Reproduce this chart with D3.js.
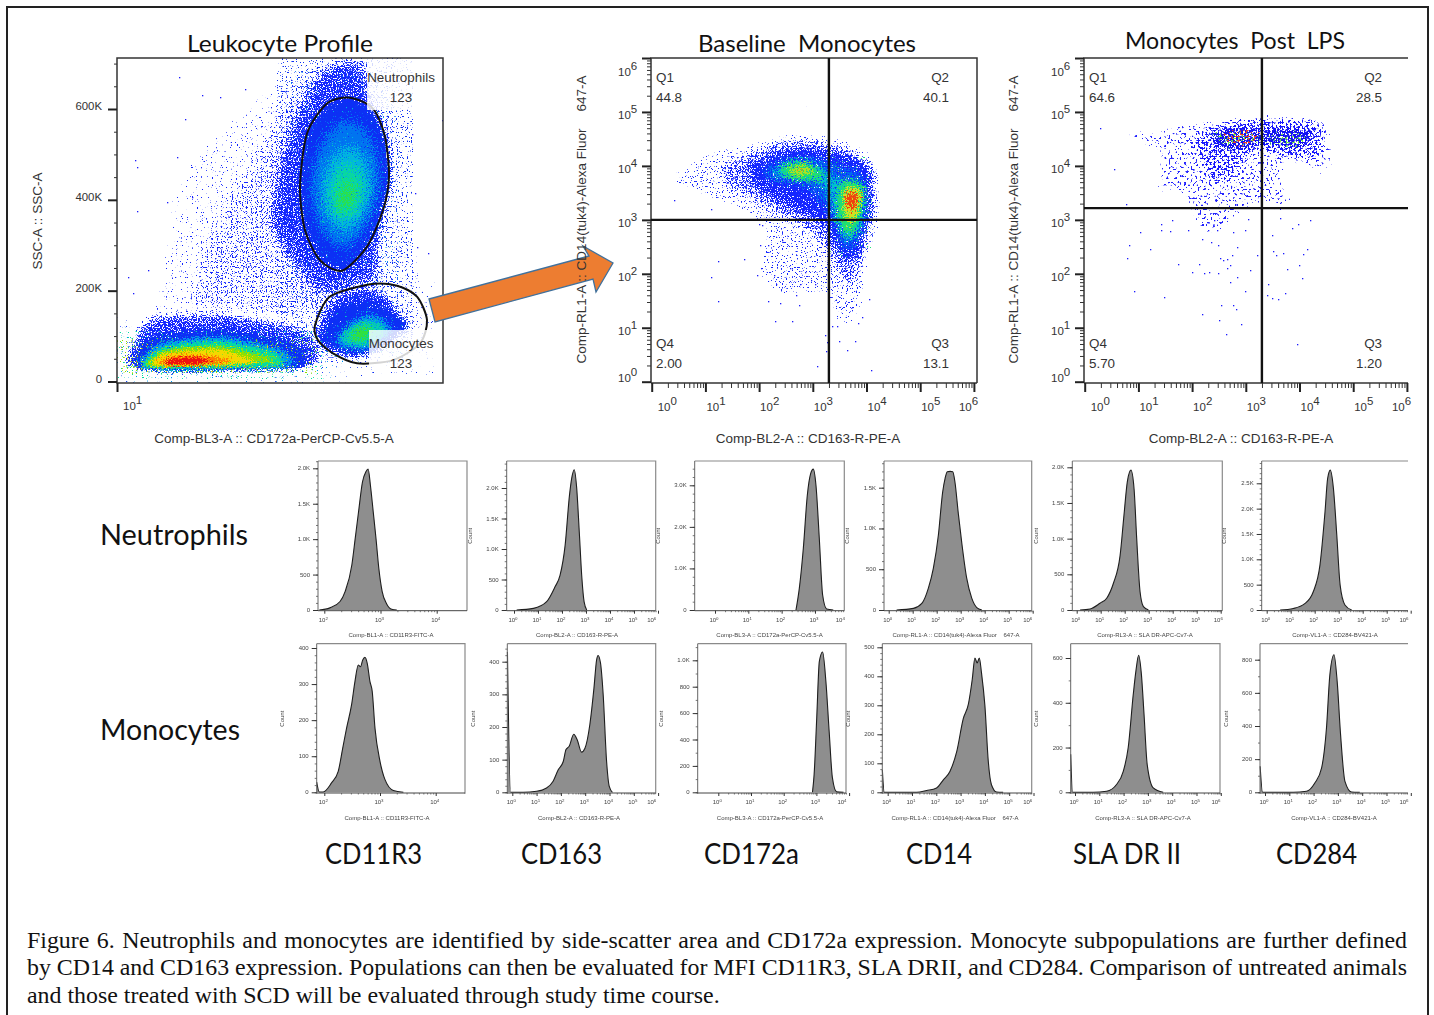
<!DOCTYPE html>
<html>
<head>
<meta charset="utf-8">
<title>Figure 6</title>
<script src="https://cdnjs.cloudflare.com/ajax/libs/d3/7.8.5/d3.min.js"></script>
<style>
  html, body { margin: 0; padding: 0; background: #fff; overflow: hidden; }
  svg { display: block; }
  .soft { filter: blur(0.35px); }
  .softer { filter: blur(0.45px); }
</style>
</head>
<body>
<svg id="fig" width="1434" height="1015"></svg>
<script>
// ---- values ----
// leukocyte plot: x is log10 of CD172a, y is SSC in thousands
const leukoSparse = [[1.13,62],[1.26,172],[1.36,282],[1.60,487],[2.03,575],[2.36,649],[2.76,707],[3.46,711],[3.80,685],[3.96,553],[4.0,414],[4.10,282],[4.23,209],[4.23,62],[3.93,18],[2.03,7],[1.20,18]];
const leukoMid = [[1.63,172],[1.90,355],[2.30,502],[2.56,627],[2.90,704],[3.50,707],[3.80,590],[3.80,443],[3.76,341],[3.70,231],[3.96,165],[3.36,135],[2.03,135]];
const neutHalo = [[2.50,385],[2.66,539],[2.96,671],[3.16,707],[3.50,707],[3.56,627],[3.73,546],[3.76,458],[3.66,319],[3.63,223],[3.46,209],[3.03,187],[2.70,267],[2.50,341]];
const lowHalo = [[1.10,69],[1.33,143],[2.10,150],[2.93,113],[3.0,33],[2.03,22],[1.16,25],[1.06,47]];
const monoHalo = [[2.98,121],[3.13,179],[3.40,209],[3.66,201],[3.83,150],[3.93,121],[3.56,62],[3.36,47],[3.03,69]];
const neutBlue = [[3.31,619],[3.55,590],[3.68,517],[3.70,436],[3.60,355],[3.43,282],[3.25,249],[3.03,282],[2.88,355],[2.86,451],[2.93,546],[3.10,601]];
const neutSky = [[3.31,575],[3.51,546],[3.61,487],[3.61,414],[3.50,348],[3.36,304],[3.20,297],[3.03,341],[2.95,421],[3.0,502],[3.13,553]];
const neutCyan = [[3.31,524],[3.48,495],[3.55,436],[3.50,377],[3.36,333],[3.20,330],[3.08,377],[3.05,443],[3.15,495]];
const neutGreen = [[3.31,487],[3.45,465],[3.48,421],[3.40,370],[3.25,348],[3.13,381],[3.13,436],[3.21,473]];
const neutLime = [[3.31,451],[3.40,436],[3.40,399],[3.28,363],[3.18,385],[3.21,429]];
const lowBlue = [[1.16,47],[1.33,99],[2.03,117],[2.70,91],[2.90,62],[2.83,29],[2.03,24],[1.30,24]];
const lowSky = [[1.23,44],[1.43,84],[2.03,99],[2.63,73],[2.76,47],[2.63,29],[1.36,27]];
const lowTeal = [[1.28,44],[1.50,77],[2.03,88],[2.53,66],[2.66,44],[2.53,33],[1.36,31]];
const lowLime = [[1.31,44],[1.50,69],[2.03,77],[2.43,58],[2.56,44],[1.36,34]];
const lowYellow = [[1.35,44],[1.53,62],[2.03,69],[2.30,51],[2.36,40],[1.43,36]];
const lowOrange = [[1.41,46],[1.63,58],[1.90,58],[2.16,47],[2.03,38],[1.46,36]];
const lowRed = [[1.46,46],[1.66,55],[1.83,53],[1.96,46],[1.83,37],[1.50,37]];
const monoBlue = [[3.03,91],[3.23,165],[3.53,179],[3.73,157],[3.91,121],[3.56,62],[3.23,69]];
const monoSky = [[3.18,91],[3.36,135],[3.56,146],[3.76,117],[3.56,73],[3.30,73]];
const monoTeal = [[3.23,99],[3.40,128],[3.56,135],[3.70,113],[3.53,80],[3.31,80]];
const monoGreen = [[3.30,102],[3.43,121],[3.56,121],[3.50,91],[3.36,88]];
const neutGate = [[3.33,625],[3.56,601],[3.68,539],[3.72,451],[3.66,377],[3.50,297],[3.25,244],[3.03,267],[2.88,333],[2.83,429],[2.90,546],[3.10,612]];
const monoGate = [[2.98,124],[3.13,187],[3.53,214],[3.80,211],[4.0,187],[4.10,135],[4.03,84],[3.76,47],[3.40,40],[3.16,62],[3.01,91]];
const leukoStrays = [[1.18,487],[1.20,473],[1.62,671],[1.20,376],[1.11,231],[1.16,194],[4.25,575],[4.11,284],[4.0,297],[3.98,415],[3.95,546],[1.85,630],[2.03,627],[1.68,579],[1.60,495],[1.50,396],[1.75,407],[1.31,245],[2.28,645]];

// baseline monocytes: both axes are log10
const baseSparse = [[.28,3.73],[1.02,4.32],[1.77,4.44],[2.52,4.66],[3.63,4.57],[4.19,4.10],[4.32,3.49],[4.25,2.81],[4.07,2.19],[4.0,1.51],[3.76,1.02],[3.39,1.02],[3.20,1.57],[2.27,1.57],[1.96,2.01],[2.02,2.87],[1.27,3.30],[.71,3.49]];
const baseMid = [[1.21,3.98],[1.83,4.32],[2.52,4.54],[3.26,4.51],[4.07,4.17],[4.19,3.61],[4.16,2.87],[4.0,2.25],[3.82,1.76],[3.51,1.76],[3.20,2.44],[2.64,2.87],[1.83,3.30],[1.34,3.61]];
const baseBlue = [[1.77,4.04],[2.52,4.35],[3.26,4.35],[4.07,4.04],[4.16,3.24],[4.0,2.75],[3.88,2.25],[3.45,2.25],[3.20,2.87],[2.52,3.18],[1.89,3.61]];
const baseSky = [[2.02,3.98],[2.64,4.23],[3.26,4.17],[4.0,3.86],[4.07,3.12],[3.88,2.50],[3.51,2.38],[3.32,2.99],[2.83,3.55],[2.14,3.67]];
const baseTeal = [[2.14,3.95],[2.76,4.17],[3.20,4.04],[3.45,3.80],[4.0,3.67],[3.98,2.99],[3.76,2.56],[3.51,2.62],[3.32,3.18],[3.07,3.67],[2.33,3.73]];
const baseGreenL = [[2.33,3.95],[2.76,4.10],[3.14,3.92],[3.20,3.73],[2.64,3.73]];
const baseGreenR = [[3.57,3.73],[3.94,3.61],[3.88,3.06],[3.70,2.69],[3.54,2.87],[3.45,3.36]];
const baseYellowL = [[2.52,3.95],[2.83,4.07],[3.07,3.92],[2.89,3.80],[2.58,3.80]];
const baseYellowR = [[3.60,3.61],[3.91,3.55],[3.85,3.12],[3.70,2.87],[3.57,3.18]];
const baseRedL = [[2.64,3.95],[2.83,4.01],[2.95,3.89],[2.73,3.83]];
const baseRedR = [[3.63,3.55],[3.88,3.49],[3.82,3.21],[3.70,3.12],[3.57,3.33]];
const baseStrays = [[.42,3.36],[1.10,3.20],[1.24,2.23],[1.71,2.28],[1.10,1.94],[1.24,1.50],[1.96,1.97],[2.04,2.11],[2.17,1.50],[2.29,1.12],[2.39,1.45],[2.62,1.12],[2.68,1.60],[2.75,1.42],[3.07,.30],[4.09,.22],[3.63,.59],[3.79,.76],[3.48,.76],[3.23,.86],[3.26,.74],[3.24,.56],[3.35,1.03],[3.45,1.03],[3.84,1.08],[3.91,1.19],[3.73,1.39],[4.04,1.54],[2.02,2.53],[2.17,2.53],[1.99,2.92],[2.05,2.90],[2.42,2.62],[2.58,2.10],[2.31,1.82],[2.27,1.98],[2.76,1.82],[2.86,2.04],[3.04,1.82]];

// monocytes post LPS
const lpsSparse = [[.72,4.66],[1.47,4.78],[2.27,4.91],[3.14,5.0],[4.51,4.91],[4.66,4.23],[4.51,3.80],[3.70,3.98],[4.01,3.06],[3.14,3.24],[2.65,2.75],[2.09,2.75],[1.78,3.43],[1.28,3.49],[1.34,4.23],[.72,4.48]];
const lpsMid = [[2.09,4.66],[2.52,4.85],[3.27,4.91],[4.39,4.85],[4.48,4.48],[4.39,4.10],[3.70,4.10],[3.27,4.29],[2.89,3.86],[2.40,3.61],[2.15,4.04],[1.96,4.41]];
const lpsDense = [[2.34,4.60],[2.77,4.78],[3.27,4.72],[4.20,4.72],[4.23,4.41],[3.89,4.29],[3.27,4.38],[2.89,4.23],[2.40,4.35]];
const lpsGreen = [[2.27,4.60],[2.89,4.72],[3.20,4.60],[4.01,4.66],[4.20,4.48],[3.89,4.29],[3.27,4.41],[2.71,4.29]];
const lpsRed = [[2.52,4.60],[3.02,4.72],[3.27,4.60],[3.20,4.35],[2.71,4.35]];
const lpsStrays = [[.29,4.70],[.55,3.95],[.77,3.30],[1.03,2.77],[.83,2.53],[.79,2.30],[1.22,2.46],[.91,1.69],[1.47,1.57],[1.73,2.19],[2.12,2.19],[2.00,2.04],[2.22,2.01],[2.32,2.04],[2.48,2.01],[2.19,1.25],[2.50,1.15],[2.53,1.43],[2.63,.89],[2.91,1.07],[2.81,1.34],[2.76,1.43],[2.71,1.85],[2.98,1.69],[2.84,1.94],[2.65,2.10],[2.71,2.16],[2.52,2.30],[2.57,2.25],[2.65,2.28],[2.75,2.35],[2.84,2.50],[2.49,2.53],[2.35,2.59],[2.19,2.65],[2.77,2.78],[2.46,2.81],[2.29,2.81],[1.93,2.81],[1.59,2.80],[1.43,2.82],[1.63,2.99],[1.42,2.92],[3.95,.70],[3.99,2.16],[4.04,1.93],[3.73,1.64],[3.42,1.81],[3.39,1.60],[3.48,1.56],[3.60,1.54],[3.76,2.09],[3.69,2.38],[3.57,2.35],[3.50,2.43],[3.48,2.72],[3.86,2.85],[3.97,2.92],[4.14,2.46],[4.07,2.36],[3.08,2.07],[3.20,2.35],[2.99,2.81],[3.05,3.01],[2.40,2.99],[3.64,3.04],[4.19,2.99]];

// histograms: [log10 value, count]
const neutCD11 = [[1.91,0],[2.10,30],[2.28,120],[2.37,260],[2.49,635],[2.55,1010],[2.61,1390],[2.68,1810],[2.74,1950],[2.78,1990],[2.82,1765],[2.87,1390],[2.92,1010],[2.97,590],[3.03,260],[3.11,85],[3.20,10],[3.29,0]];
const neutCD163 = [[.11,0],[.81,27],[1.36,136],[1.71,380],[1.92,570],[2.13,1060],[2.31,1875],[2.40,2150],[2.51,2300],[2.61,2010],[2.72,1280],[2.83,515],[2.92,136],[3.03,0]];
const neutCD172 = [[2.43,0],[2.53,520],[2.65,1480],[2.77,2760],[2.87,3280],[2.95,3390],[3.03,3000],[3.13,1720],[3.23,360],[3.35,25],[3.55,0]];
const neutCD14 = [[.33,0],[1.03,20],[1.38,80],[1.65,265],[1.86,510],[2.07,920],[2.25,1450],[2.35,1615],[2.44,1695],[2.56,1700],[2.67,1695],[2.76,1570],[2.90,1185],[3.04,835],[3.25,390],[3.46,145],[3.67,30],[3.88,0]];
const neutSLA = [[.14,0],[.56,15],[.97,95],[1.25,165],[1.53,375],[1.81,770],[1.97,1330],[2.11,1800],[2.26,1960],[2.39,1700],[2.5,1000],[2.64,255],[2.78,47],[2.99,0]];
const neutCD284 = [[.56,0],[1.11,30],[1.6,130],[1.94,360],[2.22,890],[2.43,1940],[2.54,2600],[2.65,2760],[2.78,2400],[2.92,1480],[3.06,490],[3.26,100],[3.54,0]];
const monoCD11 = [[1.86,28],[1.91,1],[1.98,1],[2.13,26],[2.25,58],[2.33,122],[2.40,178],[2.49,243],[2.55,307],[2.61,353],[2.65,348],[2.69,367],[2.73,374],[2.77,358],[2.82,307],[2.86,280],[2.91,178],[3.0,86],[3.09,35],[3.24,5],[3.42,0]];
const monoCD163 = [[-.2,430],[-.07,0],[.45,0],[1.0,3],[1.41,13],[1.68,34],[1.89,69],[2.1,95],[2.21,131],[2.34,141],[2.53,178],[2.67,161],[2.85,123],[2.99,135],[3.19,207],[3.36,319],[3.47,406],[3.53,419],[3.63,396],[3.74,299],[3.88,95],[3.99,18],[4.12,0]];
const monoCD172 = [[2.88,0],[2.93,134],[3.01,563],[3.09,992],[3.19,1063],[3.29,841],[3.39,462],[3.49,109],[3.62,3],[3.83,0]];
const monoCD14 = [[-.22,77],[-.14,0],[1.19,0],[1.6,6],[2.01,15],[2.29,43],[2.56,72],[2.84,140],[3.11,254],[3.32,304],[3.48,390],[3.59,463],[3.68,446],[3.77,463],[3.86,412],[4.0,299],[4.14,106],[4.27,26],[4.48,1],[4.75,0]];
const monoSLA = [[-.18,170],[-.1,0],[.75,0],[1.3,5],[1.71,35],[1.99,95],[2.19,200],[2.4,440],[2.51,545],[2.62,612],[2.73,530],[2.84,350],[2.97,125],[3.22,20],[3.63,0]];
const monoCD284 = [[-.2,157],[-.1,0],[1.16,0],[1.71,6],[2.05,56],[2.33,147],[2.53,388],[2.67,710],[2.84,830],[2.97,669],[3.11,348],[3.29,66],[3.56,2],[3.9,0]];

const xLabelsTop = ["Comp-BL1-A :: CD11R3-FITC-A","Comp-BL2-A :: CD163-R-PE-A","Comp-BL3-A :: CD172a-PerCP-Cv5.5-A","Comp-RL1-A :: CD14(tuk4)-Alexa Fluor    647-A","Comp-RL3-A :: SLA DR-APC-Cv7-A","Comp-VL1-A :: CD284-BV421-A"];
const markers = ["CD11R3","CD163","CD172a","CD14","SLA DR II","CD284"];
const caption = [
  "Figure 6. Neutrophils and monocytes are identified by side-scatter area and CD172a expression. Monocyte subpopulations are further defined",
  "by CD14 and CD163 expression. Populations can then be evaluated for MFI CD11R3, SLA DRII, and CD284. Comparison of untreated animals",
  "and those treated with SCD will be evaluated through study time course."
];
const quadBase = ["44.8","40.1","2.00","13.1"];
const quadLps = ["64.6","28.5","5.70","1.20"];

// ---- page layout ----
const sansFont = '"Liberation Sans", Arial, sans-serif';
const titleFont = 'Lato, "Open Sans", sans-serif';
const svg = d3.select("#fig");
const defs = svg.append("defs");

svg.append("rect").attr("x", 7).attr("y", 7).attr("width", 1421).attr("height", 1020)
  .attr("fill", "#fff").attr("stroke", "#222").attr("stroke-width", 2);

// a density region as speckle: cut sets how few dots, fade how far the edge dissolves
let filterCount = 0;
function speckle(color, cut, fade, freq) {
  const id = "sp" + (filterCount++);
  const f = defs.append("filter").attr("id", id).attr("x", "-30%").attr("y", "-40%")
    .attr("width", "160%").attr("height", "180%").attr("color-interpolation-filters", "sRGB");
  f.append("feGaussianBlur").attr("in", "SourceAlpha").attr("stdDeviation", fade).attr("result", "b");
  f.append("feTurbulence").attr("type", "fractalNoise").attr("baseFrequency", freq)
    .attr("numOctaves", 1).attr("seed", 3 + filterCount * 7).attr("result", "n");
  f.append("feColorMatrix").attr("in", "n").attr("type", "matrix")
    .attr("values", "0 0 0 0 0  0 0 0 0 0  0 0 0 0 0  1 0 0 0 0").attr("result", "na");
  f.append("feComposite").attr("in", "na").attr("in2", "b").attr("operator", "arithmetic")
    .attr("k1", 0).attr("k2", 0.7).attr("k3", 0.3).attr("k4", 0).attr("result", "sum");
  const slope = 30;
  f.append("feComponentTransfer").attr("in", "sum").attr("result", "mask")
    .append("feFuncA").attr("type", "linear").attr("slope", slope).attr("intercept", -slope * (0.7 * cut + 0.3));
  f.append("feFlood").attr("flood-color", color).attr("result", "c");
  f.append("feComposite").attr("in", "c").attr("in2", "mask").attr("operator", "in").attr("result", "dots");
  f.append("feGaussianBlur").attr("in", "dots").attr("stdDeviation", 0.25);
  return id;
}

function drawBands(g, x, y, bands) {
  const shape = d3.line().x(d => x(d[0])).y(d => y(d[1])).curve(d3.curveCardinalClosed.tension(0.3));
  g.selectAll("path.band").data(bands).join("path")
    .attr("class", "band")
    .attr("d", d => shape(d[0]))
    .attr("filter", d => `url(#${speckle(d[1], d[2], d[3], d[4] || 0.8)})`);
}

function drawStrays(g, x, y, pts) {
  g.selectAll("rect.stray").data(pts).join("rect")
    .attr("class", "stray")
    .attr("x", d => Math.round(x(d[0])))
    .attr("y", d => Math.round(y(d[1])))
    .attr("width", 1.3).attr("height", 1.3)
    .attr("fill", "#1a1aff");
}

function clipFor(id, x0, y0, w, h) {
  defs.append("clipPath").attr("id", id).append("rect")
    .attr("x", x0).attr("y", y0).attr("width", w).attr("height", h);
}

function plainAxis(g, axis, color, width) {
  g.call(axis);
  g.select(".domain").remove();
  g.selectAll("line").attr("stroke", color).attr("stroke-width", width);
  g.selectAll("text").remove();
}

function powerLabel(g, lx, ly, exp, size) {
  const t = g.append("text").attr("x", lx).attr("y", ly).attr("font-size", size).attr("fill", "#333")
    .attr("font-family", sansFont);
  t.append("tspan").text("10");
  t.append("tspan").attr("dy", -size * 0.5).attr("font-size", size).text(exp);
}

// ---- leukocyte profile ----
const leukoX = d3.scaleLinear().domain([1, 4.26]).range([117, 443]);
const leukoY = d3.scaleLinear().domain([0, 600]).range([381.5, 109]);
clipFor("clipLeuko", 117, 58, 326, 325);
const leuko = svg.append("g").attr("clip-path", "url(#clipLeuko)");
const dotBlue = "#1426ff";
drawBands(leuko, leukoX, leukoY, [
  [leukoSparse, dotBlue, 0.67, 10],
  [leukoMid, dotBlue, 0.59, 10],
  [neutHalo, dotBlue, 0.42, 7],
  [lowHalo, dotBlue, 0.42, 5],
  [monoHalo, dotBlue, 0.40, 5],
  [neutBlue, "#0c30f4", 0.20, 4],
  [neutSky, "#0074f0", 0.26, 7],
  [neutCyan, "#00b4e0", 0.28, 8],
  [neutGreen, "#08d8a0", 0.30, 8],
  [neutLime, "#28e050", 0.34, 7],
  [lowBlue, "#0c30f4", 0.30, 3],
  [lowSky, "#0098f0", 0.28, 3],
  [lowTeal, "#04dca0", 0.24, 2.5],
  [lowLime, "#90e000", 0.24, 2.5],
  [lowYellow, "#f4d800", 0.24, 2.5],
  [lowOrange, "#ff7c00", 0.30, 2.5],
  [lowRed, "#ee1010", 0.30, 2],
  [monoBlue, "#0c30f4", 0.28, 4],
  [monoSky, "#0090f0", 0.28, 4],
  [monoTeal, "#04d0b0", 0.28, 4],
  [monoGreen, "#30e040", 0.30, 4]
]);
drawStrays(leuko, leukoX, leukoY, leukoStrays);

const gateLine = d3.line().x(d => leukoX(d[0])).y(d => leukoY(d[1])).curve(d3.curveCardinalClosed.tension(0.2));
svg.selectAll("path.gate").data([neutGate, monoGate]).join("path")
  .attr("class", "gate").attr("d", gateLine)
  .attr("fill", "none").attr("stroke", "#111").attr("stroke-width", 2);

// pale boxes behind the gate names
svg.append("rect").attr("x", 367).attr("y", 59).attr("width", 70).attr("height", 51).attr("fill", "#fff").attr("opacity", 0.82);
svg.append("rect").attr("x", 369).attr("y", 330).attr("width", 68).attr("height", 37).attr("fill", "#fff").attr("opacity", 0.82);

svg.append("rect").attr("x", 117).attr("y", 58).attr("width", 326).attr("height", 325)
  .attr("fill", "none").attr("stroke", "#333").attr("stroke-width", 1.5);

const leukoTicks = svg.append("g").attr("transform", "translate(117,0)");
plainAxis(leukoTicks.append("g"), d3.axisLeft(leukoY).tickValues([50,100,150,250,300,350,450,500,550,650,700]).tickSize(3), "#333", 1);
plainAxis(leukoTicks.append("g"), d3.axisLeft(leukoY).tickValues([0,200,400,600]).tickSize(9), "#222", 2);
svg.selectAll("text.leukoY").data([0,200,400,600]).join("text")
  .attr("class", "leukoY").attr("x", 102).attr("y", d => leukoY(d) + 1)
  .attr("text-anchor", "end").attr("font-size", 11.4).attr("fill", "#333").attr("font-family", sansFont)
  .text(d => d === 0 ? "0" : d + "K");
plainAxis(svg.append("g").attr("transform", "translate(0,383)"), d3.axisBottom(leukoX).tickValues([1]).tickSize(9).tickFormat(""), "#222", 2);
powerLabel(svg, 123, 410, "1", 11.5);

const gateNames = svg.append("g").attr("font-family", sansFont).attr("font-size", 13.4).attr("fill", "#333");
gateNames.append("text").attr("x", 401).attr("y", 82).attr("text-anchor", "middle").text("Neutrophils");
gateNames.append("text").attr("x", 401).attr("y", 102).attr("text-anchor", "middle").text("123");
gateNames.append("text").attr("x", 401).attr("y", 348).attr("text-anchor", "middle").text("Monocytes");
gateNames.append("text").attr("x", 401).attr("y", 368).attr("text-anchor", "middle").text("123");

// ---- quadrant plots ----
function quadPlot(cfg) {
  const x = d3.scaleLinear().domain([0, 6]).range([cfg.left + 0.7, cfg.left + 322.9]);
  const y = d3.scaleLinear().domain([0, 6]).range([381.7, 58]);
  const id = "clip" + cfg.name;
  clipFor(id, cfg.left, 58, cfg.width, 325);
  const g = svg.append("g").attr("clip-path", `url(#${id})`);
  drawBands(g, x, y, cfg.bands);
  drawStrays(g, x, y, cfg.strays);

  // frame
  const frame = [[cfg.left, 383], [cfg.left, 58], [cfg.left + cfg.width, 58]];
  if (cfg.closed) frame.push([cfg.left + cfg.width, 383]);
  svg.append("path").attr("d", d3.line()(frame)).attr("fill", "none").attr("stroke", "#333").attr("stroke-width", 1.5);
  svg.append("line").attr("x1", cfg.left).attr("x2", cfg.left + cfg.width).attr("y1", 383).attr("y2", 383).attr("stroke", "#333").attr("stroke-width", 1.5);

  // gate lines
  svg.append("line").attr("x1", x(cfg.gateX)).attr("x2", x(cfg.gateX)).attr("y1", 58).attr("y2", 383).attr("stroke", "#111").attr("stroke-width", 2.4);
  svg.append("line").attr("x1", cfg.left).attr("x2", cfg.left + cfg.width).attr("y1", y(cfg.gateY)).attr("y2", y(cfg.gateY)).attr("stroke", "#111").attr("stroke-width", 2.4);

  // log ticks
  const exps = d3.range(0, 7);
  const minors = [];
  exps.slice(0, 6).forEach(e => d3.range(2, 10).forEach(m => minors.push(e + Math.log10(m))));
  const ya = svg.append("g").attr("transform", `translate(${cfg.left},0)`);
  plainAxis(ya.append("g"), d3.axisLeft(y).tickValues(minors).tickSize(4), "#333", 1);
  plainAxis(ya.append("g"), d3.axisLeft(y).tickValues(exps).tickSize(9), "#222", 2);
  const xa = svg.append("g").attr("transform", "translate(0,383)");
  plainAxis(xa.append("g"), d3.axisBottom(x).tickValues(minors).tickSize(5), "#333", 1);
  plainAxis(xa.append("g"), d3.axisBottom(x).tickValues(exps).tickSize(9), "#222", 2);

  exps.forEach(e => {
    const dx = e === 0 ? 6 : e === 6 ? -15 : 1;
    powerLabel(svg, x(e) + dx, 410.5, e, 11.5);
    const dy = e === 0 ? 0 : e === 6 ? 18 : 7;
    powerLabel(svg, cfg.left - 33, y(e) + dy, e, 11.5);
  });

  // quadrant names
  const q = svg.append("g").attr("font-family", sansFont).attr("font-size", 13.4).attr("fill", "#333");
  const inLeft = cfg.left + 5, inRight = cfg.left + 298;
  [["Q1", cfg.values[0], inLeft, "start", 82, 102], ["Q2", cfg.values[1], inRight, "end", 82, 102],
   ["Q4", cfg.values[2], inLeft, "start", 348, 368], ["Q3", cfg.values[3], inRight, "end", 348, 368]]
    .forEach(d => {
      q.append("text").attr("x", d[2]).attr("y", d[4]).attr("text-anchor", d[3]).text(d[0]);
      q.append("text").attr("x", d[2]).attr("y", d[5]).attr("text-anchor", d[3]).text(d[1]);
    });
}

quadPlot({
  name: "Base", left: 651, width: 326, closed: true, gateX: 3.3, gateY: 3.0, values: quadBase, strays: baseStrays,
  bands: [
    [baseSparse, dotBlue, 0.62, 5],
    [baseMid, dotBlue, 0.50, 6],
    [baseBlue, dotBlue, 0.38, 6],
    [baseSky, "#0068f0", 0.42, 6],
    [baseTeal, "#00c0d0", 0.40, 6],
    [baseGreenL, "#20e070", 0.30, 4],
    [baseGreenR, "#20e070", 0.26, 4],
    [baseYellowL, "#b0e020", 0.38, 3],
    [baseYellowR, "#d0e020", 0.30, 3],
    [baseRedL, "#f08010", 0.50, 3],
    [baseRedR, "#f04010", 0.36, 3]
  ]
});
quadPlot({
  name: "Lps", left: 1084, width: 324, closed: false, gateX: 3.3, gateY: 3.217, values: quadLps, strays: lpsStrays,
  bands: [
    [lpsSparse, "#2222ff", 0.60, 6, 0.45],
    [lpsMid, "#1414ff", 0.51, 5, 0.5],
    [lpsDense, "#1010f0", 0.46, 3, 0.55],
    [lpsGreen, "#70e840", 0.58, 3, 0.5],
    [lpsRed, "#f04020", 0.58, 2, 0.5]
  ]
});

// ---- arrow between the plots ----
const arrowPts = [[429,299],[589,256],[583,246],[613,263],[596,292],[593,279],[435,322]];
svg.append("path").attr("d", d3.line()(arrowPts) + "Z")
  .attr("fill", "#ed7d31").attr("stroke", "#41719c").attr("stroke-width", 1.3);

// ---- axis names of the big plots ----
const bigLabels = svg.append("g").attr("font-family", sansFont).attr("font-size", 13.5).attr("fill", "#333");
[["Comp-BL3-A :: CD172a-PerCP-Cv5.5-A", 274], ["Comp-BL2-A :: CD163-R-PE-A", 808], ["Comp-BL2-A :: CD163-R-PE-A", 1241]].forEach(d => {
  bigLabels.append("text").attr("x", d[1]).attr("y", 443).attr("text-anchor", "middle").text(d[0]);
});
[["SSC-A :: SSC-A", 42, 221], ["Comp-RL1-A :: CD14(tuk4)-Alexa Fluor", 586, 246], ["647-A", 586, 93.5], ["Comp-RL1-A :: CD14(tuk4)-Alexa Fluor", 1018, 246], ["647-A", 1018, 93.5]].forEach(d => {
  bigLabels.append("text").attr("transform", `translate(${d[1]},${d[2]}) rotate(-90)`).attr("text-anchor", "middle").text(d[0]);
});

// ---- titles, row and marker names ----
function fitted(txt, x0, x1, base, size) {
  svg.append("text").attr("x", x0).attr("y", base).attr("font-family", titleFont).attr("font-size", size)
    .attr("fill", "#111").attr("textLength", x1 - x0).attr("lengthAdjust", "spacingAndGlyphs")
    .attr("xml:space", "preserve").text(txt);
}
fitted("Leukocyte Profile", 187, 373, 52, 24);
fitted("Baseline  Monocytes", 698, 916, 52, 24);
fitted("Monocytes  Post  LPS", 1125, 1345, 49, 24);
fitted("Neutrophils", 100, 248, 545, 29);
fitted("Monocytes", 100, 240, 740, 29);
[[325,422],[521,602],[704,799],[906,972],[1073,1181],[1276,1357]].forEach((d, i) => fitted(markers[i], d[0], d[1], 864, 29));

// ---- histograms ----
const histRows = [
  {top: 461, bottom: 610.7, zero: 610},
  {top: 643.7, bottom: 793.7, zero: 792.3}
];
const histPanels = [
  // row 1
  {series: neutCD11, row: 0, left: 318, right: 467, xd: [2, 4], xr: [324.3, 436.7], yRef: 2000, yRefPx: 468.3, major: 500, minor: 100, label: 0, labelX: 391, countX: null},
  {series: neutCD163, row: 0, left: 506.7, right: 655.7, xd: [0, 6], xr: [514, 658], yRef: 2000, yRefPx: 488, major: 500, minor: 100, label: 1, labelX: 577, countX: 472},
  {series: neutCD172, row: 0, left: 694.7, right: 844.3, xd: [0, 4], xr: [715, 848.3], yRef: 3000, yRefPx: 485.3, major: 1000, minor: 200, label: 2, labelX: 769.5, countX: 660},
  {series: neutCD14, row: 0, left: 884, right: 1031.7, xd: [0, 6], xr: [888.7, 1032.7], yRef: 1500, yRefPx: 487.7, major: 500, minor: 100, label: 3, labelX: 956, countX: 849},
  {series: neutSLA, row: 0, left: 1072.3, right: 1222.3, xd: [0, 6], xr: [1076.7, 1220.7], yRef: 2000, yRefPx: 467.3, major: 500, minor: 100, label: 4, labelX: 1145, countX: 1038},
  {series: neutCD284, row: 0, left: 1261.7, right: 1408, xd: [0, 6], xr: [1266.7, 1410.7], yRef: 2500, yRefPx: 483.3, major: 500, minor: 100, label: 5, labelX: 1335, countX: 1226, open: true},
  // row 2
  {series: monoCD11, row: 1, left: 316.7, right: 465, xd: [2, 4], xr: [324.3, 435.7], yRef: 400, yRefPx: 648, major: 100, minor: 20, label: 0, labelX: 387, countX: 284},
  {series: monoCD163, row: 1, left: 507.3, right: 655.7, xd: [0, 6], xr: [512.3, 658.1], yRef: 400, yRefPx: 661.7, major: 100, minor: 20, label: 1, labelX: 579, countX: 475},
  {series: monoCD172, row: 1, left: 697.7, right: 846, xd: [0, 4], xr: [718.3, 849.1], yRef: 1000, yRefPx: 660.3, major: 200, minor: 100, label: 2, labelX: 770, countX: 663},
  {series: monoCD14, row: 1, left: 882.3, right: 1031.7, xd: [0, 6], xr: [887.7, 1033.5], yRef: 500, yRefPx: 647.3, major: 100, minor: 20, label: 3, labelX: 955, countX: 850},
  {series: monoSLA, row: 1, left: 1070.7, right: 1220, xd: [0, 6], xr: [1075, 1220.8], yRef: 600, yRefPx: 658, major: 200, minor: 100, label: 4, labelX: 1143, countX: 1038},
  {series: monoCD284, row: 1, left: 1260, right: 1408, xd: [0, 6], xr: [1265, 1410.8], yRef: 800, yRefPx: 659.7, major: 200, minor: 100, label: 5, labelX: 1334, countX: 1228, open: true}
];

histPanels.forEach(p => {
  const row = histRows[p.row];
  const x = d3.scaleLinear().domain(p.xd).range(p.xr).clamp(true);
  const xFree = d3.scaleLinear().domain(p.xd).range(p.xr);
  const y = d3.scaleLinear().domain([0, p.yRef]).range([row.zero, p.yRefPx]);
  const g = svg.append("g");

  // frame, the dark bottom and left edges are the axes
  const top = [[p.left, row.top], [p.right, row.top]];
  if (!p.open) top.push([p.right, row.bottom]);
  g.append("path").attr("d", d3.line()(top)).attr("fill", "none").attr("stroke", "#8a8a8a").attr("stroke-width", 1.2);

  const area = d3.area().x(d => Math.max(xFree(d[0]), p.left)).y0(row.zero).y1(d => y(d[1])).curve(d3.curveMonotoneX);
  const line = d3.line().x(d => Math.max(xFree(d[0]), p.left)).y(d => y(d[1])).curve(d3.curveMonotoneX);
  g.append("path").attr("d", area(p.series)).attr("fill", "#8e8e8e");
  g.append("path").attr("d", line(p.series)).attr("fill", "none").attr("stroke", "#1e1e1e").attr("stroke-width", 1.1).attr("class", "soft");

  g.append("line").attr("x1", p.left).attr("x2", p.left).attr("y1", row.top).attr("y2", row.bottom).attr("stroke", "#666").attr("stroke-width", 1);
  g.append("line").attr("x1", p.left).attr("x2", p.right).attr("y1", row.zero + 0.7).attr("y2", row.zero + 0.7).attr("stroke", "#444").attr("stroke-width", 1);

  // y ticks
  const yMax = y.invert(row.top);
  const ya = g.append("g").attr("transform", `translate(${p.left},0)`);
  plainAxis(ya.append("g"), d3.axisLeft(y).tickValues(d3.range(0, yMax, p.minor)).tickSize(2), "#555", 0.8);
  const majors = d3.range(0, yMax, p.major);
  plainAxis(ya.append("g"), d3.axisLeft(y).tickValues(majors).tickSize(5), "#333", 1);

  // x ticks
  const exps = d3.range(p.xd[0], p.xd[1] + 1);
  const minors = [];
  exps.slice(0, -1).forEach(e => d3.range(2, 10).forEach(m => minors.push(e + Math.log10(m))));
  const xa = g.append("g").attr("transform", `translate(0,${row.zero + 0.7})`);
  plainAxis(xa.append("g"), d3.axisBottom(x).tickValues(minors.filter(v => xFree(v) < p.right)).tickSize(1.5), "#555", 0.8);
  plainAxis(xa.append("g"), d3.axisBottom(x).tickValues(exps.filter(v => xFree(v) < p.right + 4)).tickSize(3), "#333", 1);

  const txt = g.append("g").attr("class", "softer").attr("font-family", sansFont).attr("fill", "#444").attr("font-size", 6);
  majors.forEach(v => {
    txt.append("text").attr("x", p.left - 8).attr("y", y(v) + 2).attr("text-anchor", "end")
      .text(v >= 1000 ? (v / 1000).toFixed(1) + "K" : v);
  });
  exps.forEach(e => {
    const t = txt.append("text").attr("x", Math.min(x(e), p.right - 3) - 1).attr("y", row.zero + 12).attr("text-anchor", "middle");
    t.append("tspan").text("10");
    t.append("tspan").attr("dy", -2.5).attr("font-size", 4.4).text(e);
  });
  txt.append("text").attr("x", p.labelX).attr("y", row.bottom + 26.5).attr("text-anchor", "middle").attr("xml:space", "preserve")
    .text(xLabelsTop[p.label]);
  if (p.countX !== null) {
    txt.append("text").attr("transform", `translate(${p.countX},${(row.top + row.bottom) / 2}) rotate(-90)`)
      .attr("text-anchor", "middle").text("Count");
  }
});

// ---- caption, set justified by changing the word gaps ----
const capGroup = svg.append("g").attr("font-family", '"Liberation Serif", "Times New Roman", serif')
  .attr("font-size", 23.9).attr("fill", "#111");
caption.forEach((line, i) => {
  const t = capGroup.append("text").attr("x", 27).attr("y", [948, 975, 1003][i]).text(line);
  if (i < 2) {
    const gaps = line.split(" ").length - 1;
    const spare = 1380 - t.node().getComputedTextLength();
    t.style("word-spacing", (spare / gaps) + "px");
  }
});
</script>
</body>
</html>
